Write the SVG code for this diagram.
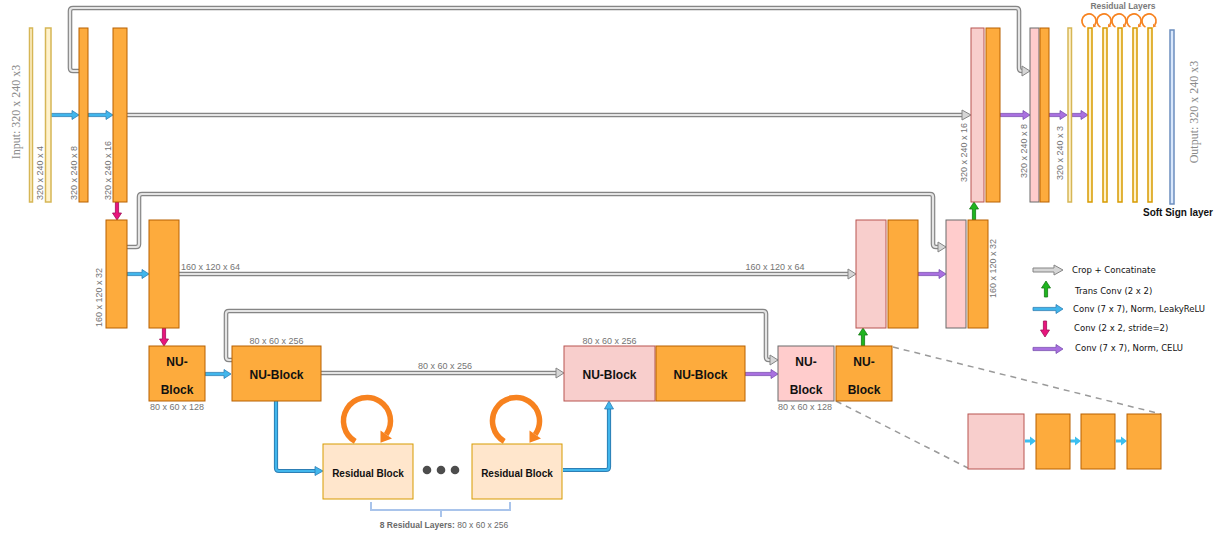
<svg xmlns="http://www.w3.org/2000/svg" xmlns:xlink="http://www.w3.org/1999/xlink" width="1222" height="536" viewBox="0 0 1222 536">
<style>
.or{fill:#fdab3d;stroke:#b86000;stroke-width:1}
.pk{fill:#f8cecc;stroke:#b85450;stroke-width:1}
.pg{fill:#ffcccc;stroke:#6b6b6b;stroke-width:1}
.yl{fill:#fff2cc;stroke:#d6b656;stroke-width:1.5}
.yd{fill:#fff2cc;stroke:#d79b00;stroke-width:1.5}
.bl{fill:#dae8fc;stroke:#6c8ebf;stroke-width:1.5}
.rb{fill:#ffe6cc;stroke:#d79b00;stroke-width:1}
.sko{fill:none;stroke:#858585;stroke-width:4.6;stroke-linejoin:round}
.ski{fill:none;stroke:#e4e4e4;stroke-width:2.2;stroke-linejoin:round}
.skh{fill:#d6d6d6;stroke:#858585;stroke-width:1}
.blo{fill:none;stroke:#2d7fb5;stroke-width:4.2;stroke-linejoin:round}
.bli{fill:none;stroke:#41b6ec;stroke-width:2.2;stroke-linejoin:round}
.ab{fill:#41b6ec;stroke:#2d7fb5;stroke-width:0.8}
.ap{fill:#a970e0;stroke:#7a4fb0;stroke-width:0.8}
.ag{fill:#1fb51f;stroke:#157a15;stroke-width:0.8}
.am{fill:#e8157d;stroke:#a00f58;stroke-width:0.8}
.ac{fill:#3cbff0}
.lbl{font-family:"Liberation Sans",Arial,sans-serif;font-size:9px;fill:#747474}
.big{font-family:"Liberation Serif","Times New Roman",serif;font-size:12px;fill:#8a8a8a}
.nb{font-family:"Liberation Sans",Arial,sans-serif;font-size:12px;font-weight:bold;fill:#111;text-anchor:middle}
.rt{font-family:"Liberation Sans",Arial,sans-serif;font-size:10px;font-weight:bold;fill:#111;text-anchor:middle}
.lg{font-family:"DejaVu Sans",Verdana,sans-serif;font-size:8.5px;fill:#111}
.loop{fill:none;stroke:#f7821f}
.dash{fill:none;stroke:#9a9a9a;stroke-width:1.5;stroke-dasharray:6 5}
</style>
<defs>
<g id="loopshape">
<path class="loop" d="M-11.75,20.35 A23.5,23.5 0 1 1 19.25,13.48" stroke-width="5.5"/>
<polygon points="24.98,17.52 13.52,9.48 13.5,21.7" fill="#f7821f"/>
</g>
</defs>
<rect width="1222" height="536" fill="#ffffff"/>

<!-- connectors -->
<g id="connectors">
<!-- skip connections (crop + concatenate) -->
<path class="sko" d="M79,71 H73 Q70,71 70,68 V11 Q70,8 73,8 H1016 Q1019,8 1019,11 V68 Q1019,71 1022,71 H1023"/>
<path class="ski" d="M79,71 H73 Q70,71 70,68 V11 Q70,8 73,8 H1016 Q1019,8 1019,11 V68 Q1019,71 1022,71 H1023"/>
<polygon class="skh" points="1022,66 1030,71 1022,76"/>

<path class="sko" d="M127,115 H963"/>
<path class="ski" d="M127,115 H963"/>
<polygon class="skh" points="962,110 971,115 962,120"/>

<path class="sko" d="M127,247 H136 Q139,247 139,244 V197 Q139,194 142,194 H930 Q933,194 933,197 V244 Q933,247 936,247 H939"/>
<path class="ski" d="M127,247 H136 Q139,247 139,244 V197 Q139,194 142,194 H930 Q933,194 933,197 V244 Q933,247 936,247 H939"/>
<polygon class="skh" points="938,242 946,247 938,252"/>

<path class="sko" d="M179,274 H849"/>
<path class="ski" d="M179,274 H849"/>
<polygon class="skh" points="848,269 856,274 848,279"/>

<path class="sko" d="M232,360 H229 Q226,360 226,357 V314 Q226,311 229,311 H763 Q766,311 766,314 V357 Q766,360 769,360 H771"/>
<path class="ski" d="M232,360 H229 Q226,360 226,357 V314 Q226,311 229,311 H763 Q766,311 766,314 V357 Q766,360 769,360 H771"/>
<polygon class="skh" points="770,355 778,360 770,365"/>

<path class="sko" d="M321,373 H557"/>
<path class="ski" d="M321,373 H557"/>
<polygon class="skh" points="556,368 564,373 556,378"/>

<!-- conv LeakyReLU (blue) -->
<polygon class="ab" points="51,113.4 72,113.4 72,110.5 79,115 72,119.5 72,116.6 51,116.6"/>
<polygon class="ab" points="88,113.4 106,113.4 106,110.5 113,115 106,119.5 106,116.6 88,116.6"/>
<polygon class="ab" points="127,272.4 142,272.4 142,269.5 149,274 142,278.5 142,275.6 127,275.6"/>
<polygon class="ab" points="205,372.4 224,372.4 224,369.5 231,374 224,378.5 224,375.6 205,375.6"/>
<path class="blo" d="M276,401 V468 Q276,471 279,471 H316"/>
<path class="bli" d="M276,401 V468 Q276,471 279,471 H316"/>
<polygon class="ab" points="315,466.5 323,471 315,475.5"/>
<path class="blo" d="M563,470 H606 Q609,470 609,467 V408"/>
<path class="bli" d="M563,470 H606 Q609,470 609,467 V408"/>
<polygon class="ab" points="604.5,409 609,401 613.5,409"/>

<!-- conv CELU (purple) -->
<polygon class="ap" points="1000,113.4 1023,113.4 1023,110.5 1030,115 1023,119.5 1023,116.6 1000,116.6"/>
<polygon class="ap" points="1049,113.4 1060,113.4 1060,110.5 1067,115 1060,119.5 1060,116.6 1049,116.6"/>
<polygon class="ap" points="1072,113.4 1081,113.4 1081,110.5 1088,115 1081,119.5 1081,116.6 1072,116.6"/>
<polygon class="ap" points="918,272.4 939,272.4 939,269.5 946,274 939,278.5 939,275.6 918,275.6"/>
<polygon class="ap" points="745,372.4 771,372.4 771,369.5 778,374 771,378.5 771,375.6 745,375.6"/>

<!-- trans conv (green) -->
<polygon class="ag" points="972.4,220 972.4,209 969.5,209 974,202 978.5,209 975.6,209 975.6,220"/>
<polygon class="ag" points="861.4,346 861.4,335 858.5,335 863,328 867.5,335 864.6,335 864.6,346"/>

<!-- conv stride 2 (magenta) -->
<polygon class="am" points="115.4,202 115.4,213 112.5,213 117,220 121.5,213 118.6,213 118.6,202"/>
<polygon class="am" points="162.4,328 162.4,339 159.5,339 164,346 168.5,339 165.6,339 165.6,328"/>

<!-- inset arrows -->
<polygon class="ac" points="1025,439.5 1030,439.5 1030,436.5 1036,441 1030,445.5 1030,442.5 1025,442.5"/>
<polygon class="ac" points="1070,439.5 1075,439.5 1075,436.5 1081,441 1075,445.5 1075,442.5 1070,442.5"/>
<polygon class="ac" points="1116,439.5 1121,439.5 1121,436.5 1127,441 1121,445.5 1121,442.5 1116,442.5"/>

<!-- zoom dashed lines -->
<line class="dash" x1="893" y1="347" x2="1161" y2="414"/>
<line class="dash" x1="836" y1="401" x2="968" y2="468"/>

<!-- residual loops -->
<use xlink:href="#loopshape" transform="translate(367,421)"/>
<use xlink:href="#loopshape" transform="translate(516,421)"/>
<g stroke-width="1">
<use xlink:href="#loopshape" transform="translate(1089,21) scale(0.3)"/>
<use xlink:href="#loopshape" transform="translate(1104,21) scale(0.3)"/>
<use xlink:href="#loopshape" transform="translate(1119,21) scale(0.3)"/>
<use xlink:href="#loopshape" transform="translate(1134,21) scale(0.3)"/>
<use xlink:href="#loopshape" transform="translate(1149,21) scale(0.3)"/>
</g>

<!-- bracket -->
<path d="M371,502 V510 H510 V502 M441,510 V517" fill="none" stroke="#a9c4eb" stroke-width="2"/>
</g>

<!-- encoder level 1 -->
<g id="input">
<text class="big" transform="translate(20,112) rotate(-90)" text-anchor="middle">Input: 320 x 240 x3</text>
<rect class="yl" x="29.5" y="28" width="3" height="174"/>
</g>
<g id="enc1a">
<rect class="yl" x="45.5" y="28" width="5.5" height="174"/>
<text class="lbl" transform="translate(43,200) rotate(-90)">320 x 240 x 4</text>
</g>
<g id="enc1b">
<rect class="or" x="79" y="28" width="9" height="174"/>
<text class="lbl" transform="translate(77,200) rotate(-90)">320 x 240 x 8</text>
</g>
<g id="enc1c">
<rect class="or" x="113" y="28" width="14" height="174"/>
<text class="lbl" transform="translate(111,200) rotate(-90)">320 x 240 x 16</text>
</g>

<!-- encoder level 2 -->
<g id="enc2a">
<rect class="or" x="106" y="220" width="21" height="108"/>
<text class="lbl" transform="translate(102,327) rotate(-90)">160 x 120 x 32</text>
</g>
<g id="enc2b">
<rect class="or" x="149" y="220" width="30" height="108"/>
<text class="lbl" x="181" y="270">160 x 120 x 64</text>
</g>

<!-- level 3 -->
<g id="nu1">
<rect class="or" x="149" y="346" width="56" height="55"/>
<text class="nb" x="177" y="366">NU-</text>
<text class="nb" x="177" y="394">Block</text>
<text class="lbl" x="177" y="410" text-anchor="middle">80 x 60 x 128</text>
</g>
<g id="nu2">
<rect class="or" x="232" y="346" width="89" height="55"/>
<text class="nb" x="276.5" y="379">NU-Block</text>
<text class="lbl" x="276.5" y="344" text-anchor="middle">80 x 60 x 256</text>
</g>
<g id="skiplabel80">
<text class="lbl" x="445" y="369" text-anchor="middle">80 x 60 x 256</text>
</g>
<g id="skiplabel160">
<text class="lbl" x="775" y="270" text-anchor="middle">160 x 120 x 64</text>
</g>

<g id="res1">
<rect class="rb" x="323" y="444" width="90" height="55"/>
<text class="rt" x="368" y="477">Residual Block</text>
</g>
<g id="dots">
<circle cx="427" cy="470" r="4.3" fill="#4d4d4d"/>
<circle cx="441" cy="470" r="4.3" fill="#4d4d4d"/>
<circle cx="455" cy="470" r="4.3" fill="#4d4d4d"/>
</g>
<g id="res2">
<rect class="rb" x="472" y="444" width="90" height="55"/>
<text class="rt" x="517" y="477">Residual Block</text>
</g>
<g id="reslabel">
<text x="444" y="528" text-anchor="middle" font-family="Liberation Sans, Arial, sans-serif" font-size="8.5" fill="#6a6a6a"><tspan font-weight="bold">8 Residual Layers:</tspan> 80 x 60 x 256</text>
</g>

<g id="nu3">
<rect class="pk" x="564" y="346" width="91" height="55"/>
<text class="nb" x="609.5" y="379">NU-Block</text>
<text class="lbl" x="609.5" y="344" text-anchor="middle">80 x 60 x 256</text>
</g>
<g id="nu4">
<rect class="or" x="656" y="346" width="89" height="55"/>
<text class="nb" x="700.5" y="379">NU-Block</text>
</g>
<g id="nu5">
<rect class="pg" x="778" y="346" width="56" height="55"/>
<text class="nb" x="806" y="366">NU-</text>
<text class="nb" x="806" y="394">Block</text>
<text class="lbl" x="805" y="410" text-anchor="middle">80 x 60 x 128</text>
</g>
<g id="nu6">
<rect class="or" x="836" y="346" width="56" height="55"/>
<text class="nb" x="864" y="366">NU-</text>
<text class="nb" x="864" y="394">Block</text>
</g>

<!-- decoder level 2 -->
<g id="dec2a">
<rect class="pk" x="856" y="220" width="30" height="108"/>
</g>
<g id="dec2b">
<rect class="or" x="888" y="220" width="30" height="108"/>
</g>
<g id="dec2c">
<rect class="pg" x="946" y="220" width="20" height="108"/>
</g>
<g id="dec2d">
<rect class="or" x="968" y="220" width="20" height="108"/>
<text class="lbl" transform="translate(996,298) rotate(-90)">160 x 120 x 32</text>
</g>

<!-- decoder level 1 -->
<g id="dec1a">
<rect class="pk" x="971" y="28" width="13" height="174"/>
<text class="lbl" transform="translate(967,182) rotate(-90)">320 x 240 x 16</text>
</g>
<g id="dec1b">
<rect class="or" x="986" y="28" width="14" height="174"/>
</g>
<g id="dec1c">
<rect class="pg" x="1030" y="28" width="9" height="174"/>
<text class="lbl" transform="translate(1027,178) rotate(-90)">320 x 240 x 8</text>
</g>
<g id="dec1d">
<rect class="or" x="1040" y="28" width="9" height="174"/>
</g>
<g id="dec1e">
<rect class="yl" x="1068" y="28" width="3.5" height="174"/>
<text class="lbl" transform="translate(1063,180) rotate(-90)">320 x 240 x 3</text>
</g>
<g id="reslayers">
<text x="1123" y="9" text-anchor="middle" font-family="Liberation Sans, Arial, sans-serif" font-size="8.5" font-weight="bold" fill="#7a7a7a">Residual Layers</text>
<rect class="yd" x="1088" y="28" width="4" height="174"/>
<rect class="yd" x="1103" y="28" width="4" height="174"/>
<rect class="yd" x="1118" y="28" width="4" height="174"/>
<rect class="yd" x="1133" y="28" width="4" height="174"/>
<rect class="yd" x="1148" y="28" width="4" height="174"/>
</g>
<g id="output">
<rect class="bl" x="1170" y="30" width="4" height="174"/>
<text class="big" transform="translate(1198,112) rotate(-90)" text-anchor="middle">Output: 320 x 240 x3</text>
<text x="1178" y="216" text-anchor="middle" font-family="Liberation Sans, Arial, sans-serif" font-size="10" font-weight="bold" fill="#111">Soft Sign layer</text>
</g>

<!-- inset -->
<g id="inset">
<rect class="pk" x="968" y="414" width="56" height="55"/>
<rect class="or" x="1036" y="414" width="34" height="55"/>
<rect class="or" x="1081" y="414" width="34" height="55"/>
<rect class="or" x="1127" y="414" width="34" height="55"/>
</g>

<!-- legend -->
<g id="legend">
<polygon class="skh" points="1033,268 1054,268 1054,265 1063,270 1054,275 1054,272 1033,272"/>
<text class="lg" x="1072" y="273">Crop + Concatinate</text>
<polygon class="ag" points="1044.4,297 1044.4,288 1041.5,288 1046,281 1050.5,288 1047.6,288 1047.6,297"/>
<text class="lg" x="1075" y="294">Trans Conv (2 x 2)</text>
<polygon class="ab" points="1033,307.4 1056,307.4 1056,304.5 1063,309 1056,313.5 1056,310.6 1033,310.6"/>
<text class="lg" x="1073" y="312">Conv (7 x 7), Norm, LeakyReLU</text>
<polygon class="am" points="1043.4,321 1043.4,330 1040.5,330 1045,337 1049.5,330 1046.6,330 1046.6,321"/>
<text class="lg" x="1074" y="331">Conv (2 x 2, stride=2)</text>
<polygon class="ap" points="1033,347.4 1056,347.4 1056,344.5 1063,349 1056,353.5 1056,350.6 1033,350.6"/>
<text class="lg" x="1075" y="351">Conv (7 x 7), Norm, CELU</text>
</g>
</svg>
